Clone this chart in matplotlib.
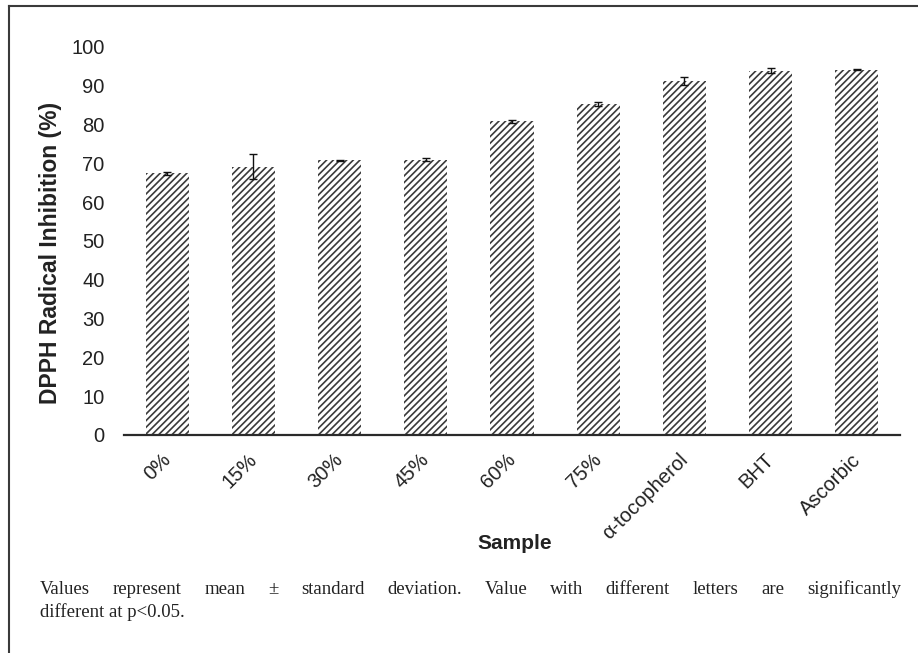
import matplotlib
matplotlib.use("Agg")
import matplotlib.pyplot as plt
import matplotlib.transforms as mtransforms
from matplotlib.lines import Line2D

# Data
samples = ["0%", "15%", "30%", "45%", "60%", "75%", "α-tocopherol", "BHT", "Ascorbic"]
inhibition = [67.5, 69.2, 70.8, 71.0, 80.8, 85.2, 91.3, 93.9, 94.2]
std_dev = [0.4, 3.2, 0.15, 0.3, 0.4, 0.5, 1.0, 0.65, 0.2]
y_ticks = list(range(0, 101, 10))
caption_lines = [
    "Values represent mean ± standard deviation. Value with different letters are significantly",
    "different at p<0.05.",
]

W, H = 918, 653
plt.rcParams['font.family'] = ['Liberation Sans', 'DejaVu Sans']
plt.rcParams['hatch.linewidth'] = 1.2

fig = plt.figure(figsize=(W / 100, H / 100), dpi=100)
ax = fig.add_axes([124 / W, 1 - 435 / H, 776 / W, 388 / H])

x = list(range(len(samples)))
ax.bar(x, inhibition, width=0.5, color='white', edgecolor='#3a3a3a',
       linewidth=0, hatch='/////')
ax.errorbar(x, inhibition, yerr=std_dev, fmt='none', ecolor='#111111',
            elinewidth=1, capsize=3.2, capthick=1, clip_on=False)

ax.set_xlim(-0.5, len(samples) - 0.5)
ax.set_ylim(0, 100)
ax.set_yticks(y_ticks)
ax.set_yticklabels([str(t) for t in y_ticks], fontsize=14.5, color='#222222')
ax.tick_params(axis='both', length=0)
ax.tick_params(axis='y', pad=14)
ax.tick_params(axis='x', pad=11)

ax.set_xticks(x)
ax.set_xticklabels(samples, rotation=45, ha='right', va='top',
                   rotation_mode='anchor', fontsize=14.5, color='#222222')
shift = mtransforms.ScaledTranslation(-0.06, 0, fig.dpi_scale_trans)
for lbl in ax.get_xticklabels():
    lbl.set_transform(lbl.get_transform() + shift)

for side in ['left', 'top', 'right']:
    ax.spines[side].set_visible(False)
ax.spines['bottom'].set_color('#2a2a2a')
ax.spines['bottom'].set_linewidth(1.6)

ax.set_ylabel("DPPH Radical Inhibition (%)", fontsize=16.5, fontweight='bold',
              color='#222222')
ax.yaxis.set_label_coords(-0.08, 0.47)
ax.set_xlabel("Sample", fontsize=15, fontweight='bold', color='#222222')
ax.xaxis.set_label_coords(0.504, -0.255)

# outer frame (only left and top edges visible in the crop)
fig.add_artist(Line2D([9 / W, 9 / W], [0, 1 - 6 / H], transform=fig.transFigure,
                      color='#3a3a3a', linewidth=1.5))
fig.add_artist(Line2D([9 / W, 1], [1 - 6 / H, 1 - 6 / H], transform=fig.transFigure,
                      color='#3a3a3a', linewidth=1.5))

# caption, first line justified between x=40 and x=901
cap_font = dict(family='Liberation Serif', fontsize=13.5, color='#222222')
renderer = fig.canvas.get_renderer()
words = caption_lines[0].split()
objs = [fig.text(0, 0, w, **cap_font) for w in words]
widths = [o.get_window_extent(renderer).width for o in objs]
left, right = 40, 901
gap = (right - left - sum(widths)) / (len(words) - 1)
xpos = left
for o, w in zip(objs, widths):
    o.set_position((xpos / W, 1 - 594 / H))
    o.set_va('baseline')
    xpos += w + gap

line2 = fig.text(40 / W, 1 - 617 / H, caption_lines[1], va='baseline', **cap_font)

fig.savefig("out.png", dpi=100, facecolor='white')
